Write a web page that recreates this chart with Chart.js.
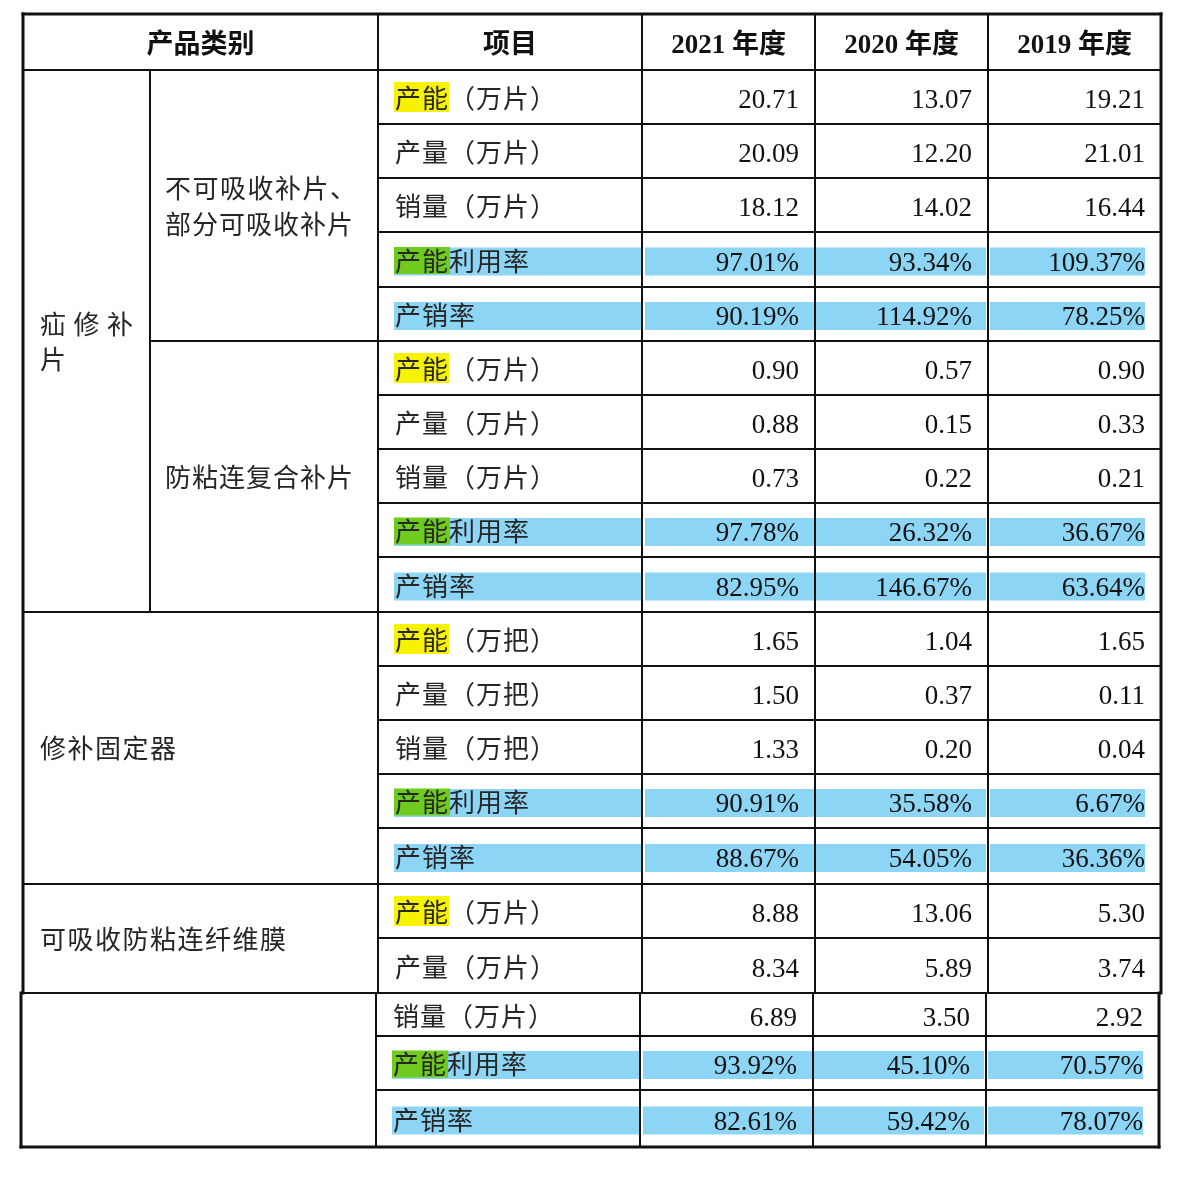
<!DOCTYPE html>
<html lang="zh-CN">
<head>
<meta charset="utf-8">
<title>产品产能、产量、销量</title>
<script src="https://cdn.jsdelivr.net/npm/chart.js@4.4.1/dist/chart.umd.min.js"></script>
<style>
    html, body { margin: 0; padding: 0; background: #ffffff; overflow: hidden; }
    canvas { display: block; }
</style>
</head>
<body>
<canvas id="capacityTable" width="1178" height="1186"></canvas>
<script>
const headers = ['产品类别', '项目'];
const years = ['2021 年度', '2020 年度', '2019 年度'];
const groups = ['疝修补片', '修补固定器', '可吸收防粘连纤维膜'];
const subGroups = ['不可吸收补片、部分可吸收补片', '防粘连复合补片'];

const items = [
    '产能（万片）', '产量（万片）', '销量（万片）', '产能利用率', '产销率',
    '产能（万片）', '产量（万片）', '销量（万片）', '产能利用率', '产销率',
    '产能（万把）', '产量（万把）', '销量（万把）', '产能利用率', '产销率',
    '产能（万片）', '产量（万片）', '销量（万片）', '产能利用率', '产销率'
];
const v2021 = [20.71, 20.09, 18.12, 97.01, 90.19, 0.90, 0.88, 0.73, 97.78, 82.95,
               1.65, 1.50, 1.33, 90.91, 88.67, 8.88, 8.34, 6.89, 93.92, 82.61];
const v2020 = [13.07, 12.20, 14.02, 93.34, 114.92, 0.57, 0.15, 0.22, 26.32, 146.67,
               1.04, 0.37, 0.20, 35.58, 54.05, 13.06, 5.89, 3.50, 45.10, 59.42];
const v2019 = [19.21, 21.01, 16.44, 109.37, 78.25, 0.90, 0.33, 0.21, 36.67, 63.64,
               1.65, 0.11, 0.04, 6.67, 36.36, 5.30, 3.74, 2.92, 70.57, 78.07];
const yearValues = [v2021, v2020, v2019];

// row ranges [first, end) covered by each category label
const groupRows = [[0, 10], [10, 15], [15, 17]];
const subGroupRows = [[0, 5], [5, 10]];

// ---- layout (in canvas units, mapped through the scales) ----
const colX = [23, 150, 378, 642, 815, 988, 1161];
const rowY = [14, 70, 124, 178, 232, 287, 341, 395, 449, 503, 557, 612,
              666, 720, 774, 828, 884, 938, 993, 1036, 1090, 1147];
const stripFrom = 17;      // last rows sit on a pasted strip, slightly to the left
const stripShift = -2;
const bandInset = [[16, 0], [3, 0], [1, 2], [2, 16]];

const COLORS = {
    blue: '#8dd5f5',
    yellow: '#f6f200',
    green: '#6fcb1e',
    line: '#111111',
    text: '#262626',
    digits: '#111111'
};

const rowCenter = r => (rowY[r + 1] + rowY[r + 2]) / 2;
const rowShift = r => (r >= stripFrom ? stripShift : 0);
const isRate = name => name.indexOf('（') === -1;

// highlight bands, one floating bar per cell
const blueBands = [];
const yellowBands = [];
const greenBands = [];
items.forEach((name, r) => {
    const s = rowShift(r);
    const c = rowCenter(r);
    if (isRate(name)) {
        bandInset.forEach((inset, k) => {
            blueBands.push({ y: c + 2, x: [colX[2 + k] + inset[0] + s, colX[3 + k] - inset[1] + s] });
        });
    }
    if (name.startsWith('产能（')) {
        yellowBands.push({ y: c, x: [colX[2] + 16 + s, colX[2] + 71 + s] });
    }
    if (name === '产能利用率') {
        greenBands.push({ y: c + 1, x: [colX[2] + 16 + s, colX[2] + 72 + s] });
    }
});

// draw text char by char with extra spacing
function drawSpaced(ctx, text, x, y, spacing) {
    let cx = x;
    for (const ch of text) {
        ctx.fillText(ch, cx, y);
        cx += ctx.measureText(ch).width + spacing;
    }
}

// wrap a label inside [x0, x1]; full lines are justified
function drawLabel(ctx, text, x0, x1, yMid, spacing, lineHeight) {
    const chars = Array.from(text);
    const w = ch => ctx.measureText(ch).width;
    const lines = [];
    let cur = [];
    let curW = 0;
    chars.forEach(ch => {
        const add = w(ch) + (cur.length ? spacing : 0);
        if (cur.length && curW + add > x1 - x0) {
            lines.push(cur);
            cur = [];
            curW = 0;
        }
        curW += w(ch) + (cur.length ? spacing : 0);
        cur.push(ch);
    });
    if (cur.length) lines.push(cur);

    const top = yMid - (lines.length - 1) * lineHeight / 2;
    lines.forEach((line, i) => {
        const y = top + i * lineHeight + 10;
        let gap = spacing;
        if (i < lines.length - 1 && line.length > 1) {
            const inkW = line.reduce((a, ch) => a + w(ch), 0);
            gap = (x1 - x0 - inkW) / (line.length - 1);
        }
        drawSpaced(ctx, line.join(''), x0, y, gap);
    });
}

const tablePlugin = {
    id: 'tableGrid',
    afterDatasetsDraw(chart) {
        const { ctx } = chart;
        const px = v => chart.scales.x.getPixelForValue(v);
        const py = v => chart.scales.y.getPixelForValue(v);

        ctx.save();
        ctx.strokeStyle = COLORS.line;
        ctx.lineCap = 'square';

        const hLine = (yv, x0, x1, w) => {
            ctx.lineWidth = w;
            ctx.beginPath();
            ctx.moveTo(px(x0), py(yv));
            ctx.lineTo(px(x1), py(yv));
            ctx.stroke();
        };
        const vLine = (xv, y0, y1, w) => {
            ctx.lineWidth = w;
            ctx.beginPath();
            ctx.moveTo(px(xv), py(y0));
            ctx.lineTo(px(xv), py(y1));
            ctx.stroke();
        };

        // horizontal rules
        hLine(rowY[0], colX[0], colX[6], 3);
        hLine(rowY[1], colX[0], colX[6], 2);
        const groupEnds = groupRows.map(g => g[1]);
        const subEnds = subGroupRows.map(g => g[1]);
        for (let r = 0; r < items.length; r++) {
            const end = r + 1;
            const yv = rowY[r + 2];
            const s = end >= stripFrom ? stripShift : 0;
            let start = 2;
            if (subEnds.includes(end)) start = 1;
            if (groupEnds.includes(end) || end === items.length) start = 0;
            hLine(yv, colX[start] + s, colX[6] + s, end === items.length ? 3 : 2);
        }

        // vertical rules: main block, then the pasted strip
        const mainEnd = rowY[stripFrom + 1];
        const last = rowY[rowY.length - 1];
        [0, 2, 3, 4, 5, 6].forEach(c => {
            const w = (c === 0 || c === 6) ? 3 : 2;
            vLine(colX[c], rowY[0], mainEnd, w);
            vLine(colX[c] + stripShift, mainEnd, last, w);
        });
        vLine(colX[1], rowY[1], rowY[subGroupRows[1][1] + 1], 2);

        // header
        const headY = (rowY[0] + rowY[1]) / 2 + 11;
        ctx.textBaseline = 'alphabetic';
        ctx.fillStyle = COLORS.digits;
        ctx.textAlign = 'center';
        ctx.font = "bold 27px 'Liberation Serif', 'Noto Sans CJK SC'";
        ctx.fillText(headers[0], px((colX[0] + colX[2]) / 2), py(headY));
        ctx.fillText(headers[1], px((colX[2] + colX[3]) / 2), py(headY));
        years.forEach((yr, k) => {
            ctx.fillText(yr, px((colX[3 + k] + colX[4 + k]) / 2), py(headY));
        });

        // items and values
        items.forEach((name, r) => {
            const s = rowShift(r);
            const yv = rowCenter(r) + 11;
            ctx.textAlign = 'left';
            ctx.fillStyle = COLORS.text;
            ctx.font = "26px 'Noto Sans CJK SC'";
            drawSpaced(ctx, name, px(colX[2] + 17 + s), py(yv), 1);

            ctx.textAlign = 'right';
            ctx.fillStyle = COLORS.digits;
            ctx.font = "27px 'Liberation Serif'";
            yearValues.forEach((vals, k) => {
                const txt = vals[r].toFixed(2) + (isRate(name) ? '%' : '');
                ctx.fillText(txt, px(colX[4 + k] - 16 + s), py(yv));
            });
        });

        // category labels
        ctx.textAlign = 'left';
        ctx.fillStyle = COLORS.text;
        ctx.font = "26px 'Noto Sans CJK SC'";
        const spanMid = ([a, b]) => (rowY[a + 1] + rowY[b + 1]) / 2;
        drawLabel(ctx, groups[0], px(colX[0] + 17), px(colX[1] - 17), py(spanMid(groupRows[0])), 1, 35);
        subGroups.forEach((label, i) => {
            drawLabel(ctx, label, px(colX[1] + 15), px(colX[2] - 22), py(spanMid(subGroupRows[i])), 1, 36);
        });
        drawLabel(ctx, groups[1], px(colX[0] + 17), px(colX[2] - 17), py(spanMid(groupRows[1])), 1.5, 36);
        drawLabel(ctx, groups[2], px(colX[0] + 17), px(colX[2] - 17), py(spanMid(groupRows[2])), 1.5, 36);

        ctx.restore();
    }
};

new Chart(document.getElementById('capacityTable'), {
    type: 'bar',
    data: {
        datasets: [
            { label: '产能', data: yellowBands, backgroundColor: COLORS.yellow, barThickness: 30, order: 1 },
            { label: '产能利用率', data: greenBands, backgroundColor: COLORS.green, barThickness: 27, order: 1 },
            { label: '比率', data: blueBands, backgroundColor: COLORS.blue, barThickness: 28, order: 2 }
        ]
    },
    options: {
        indexAxis: 'y',
        responsive: false,
        devicePixelRatio: 1,
        animation: false,
        events: [],
        layout: { padding: 0 },
        datasets: { bar: { grouped: false, borderWidth: 0, inflateAmount: 0 } },
        plugins: {
            legend: { display: false },
            tooltip: { enabled: false }
        },
        scales: {
            x: { type: 'linear', min: 0, max: 1178, offset: false, display: false },
            y: { type: 'linear', min: 0, max: 1186, offset: false, reverse: true, display: false }
        }
    },
    plugins: [tablePlugin]
});
</script>
</body>
</html>
